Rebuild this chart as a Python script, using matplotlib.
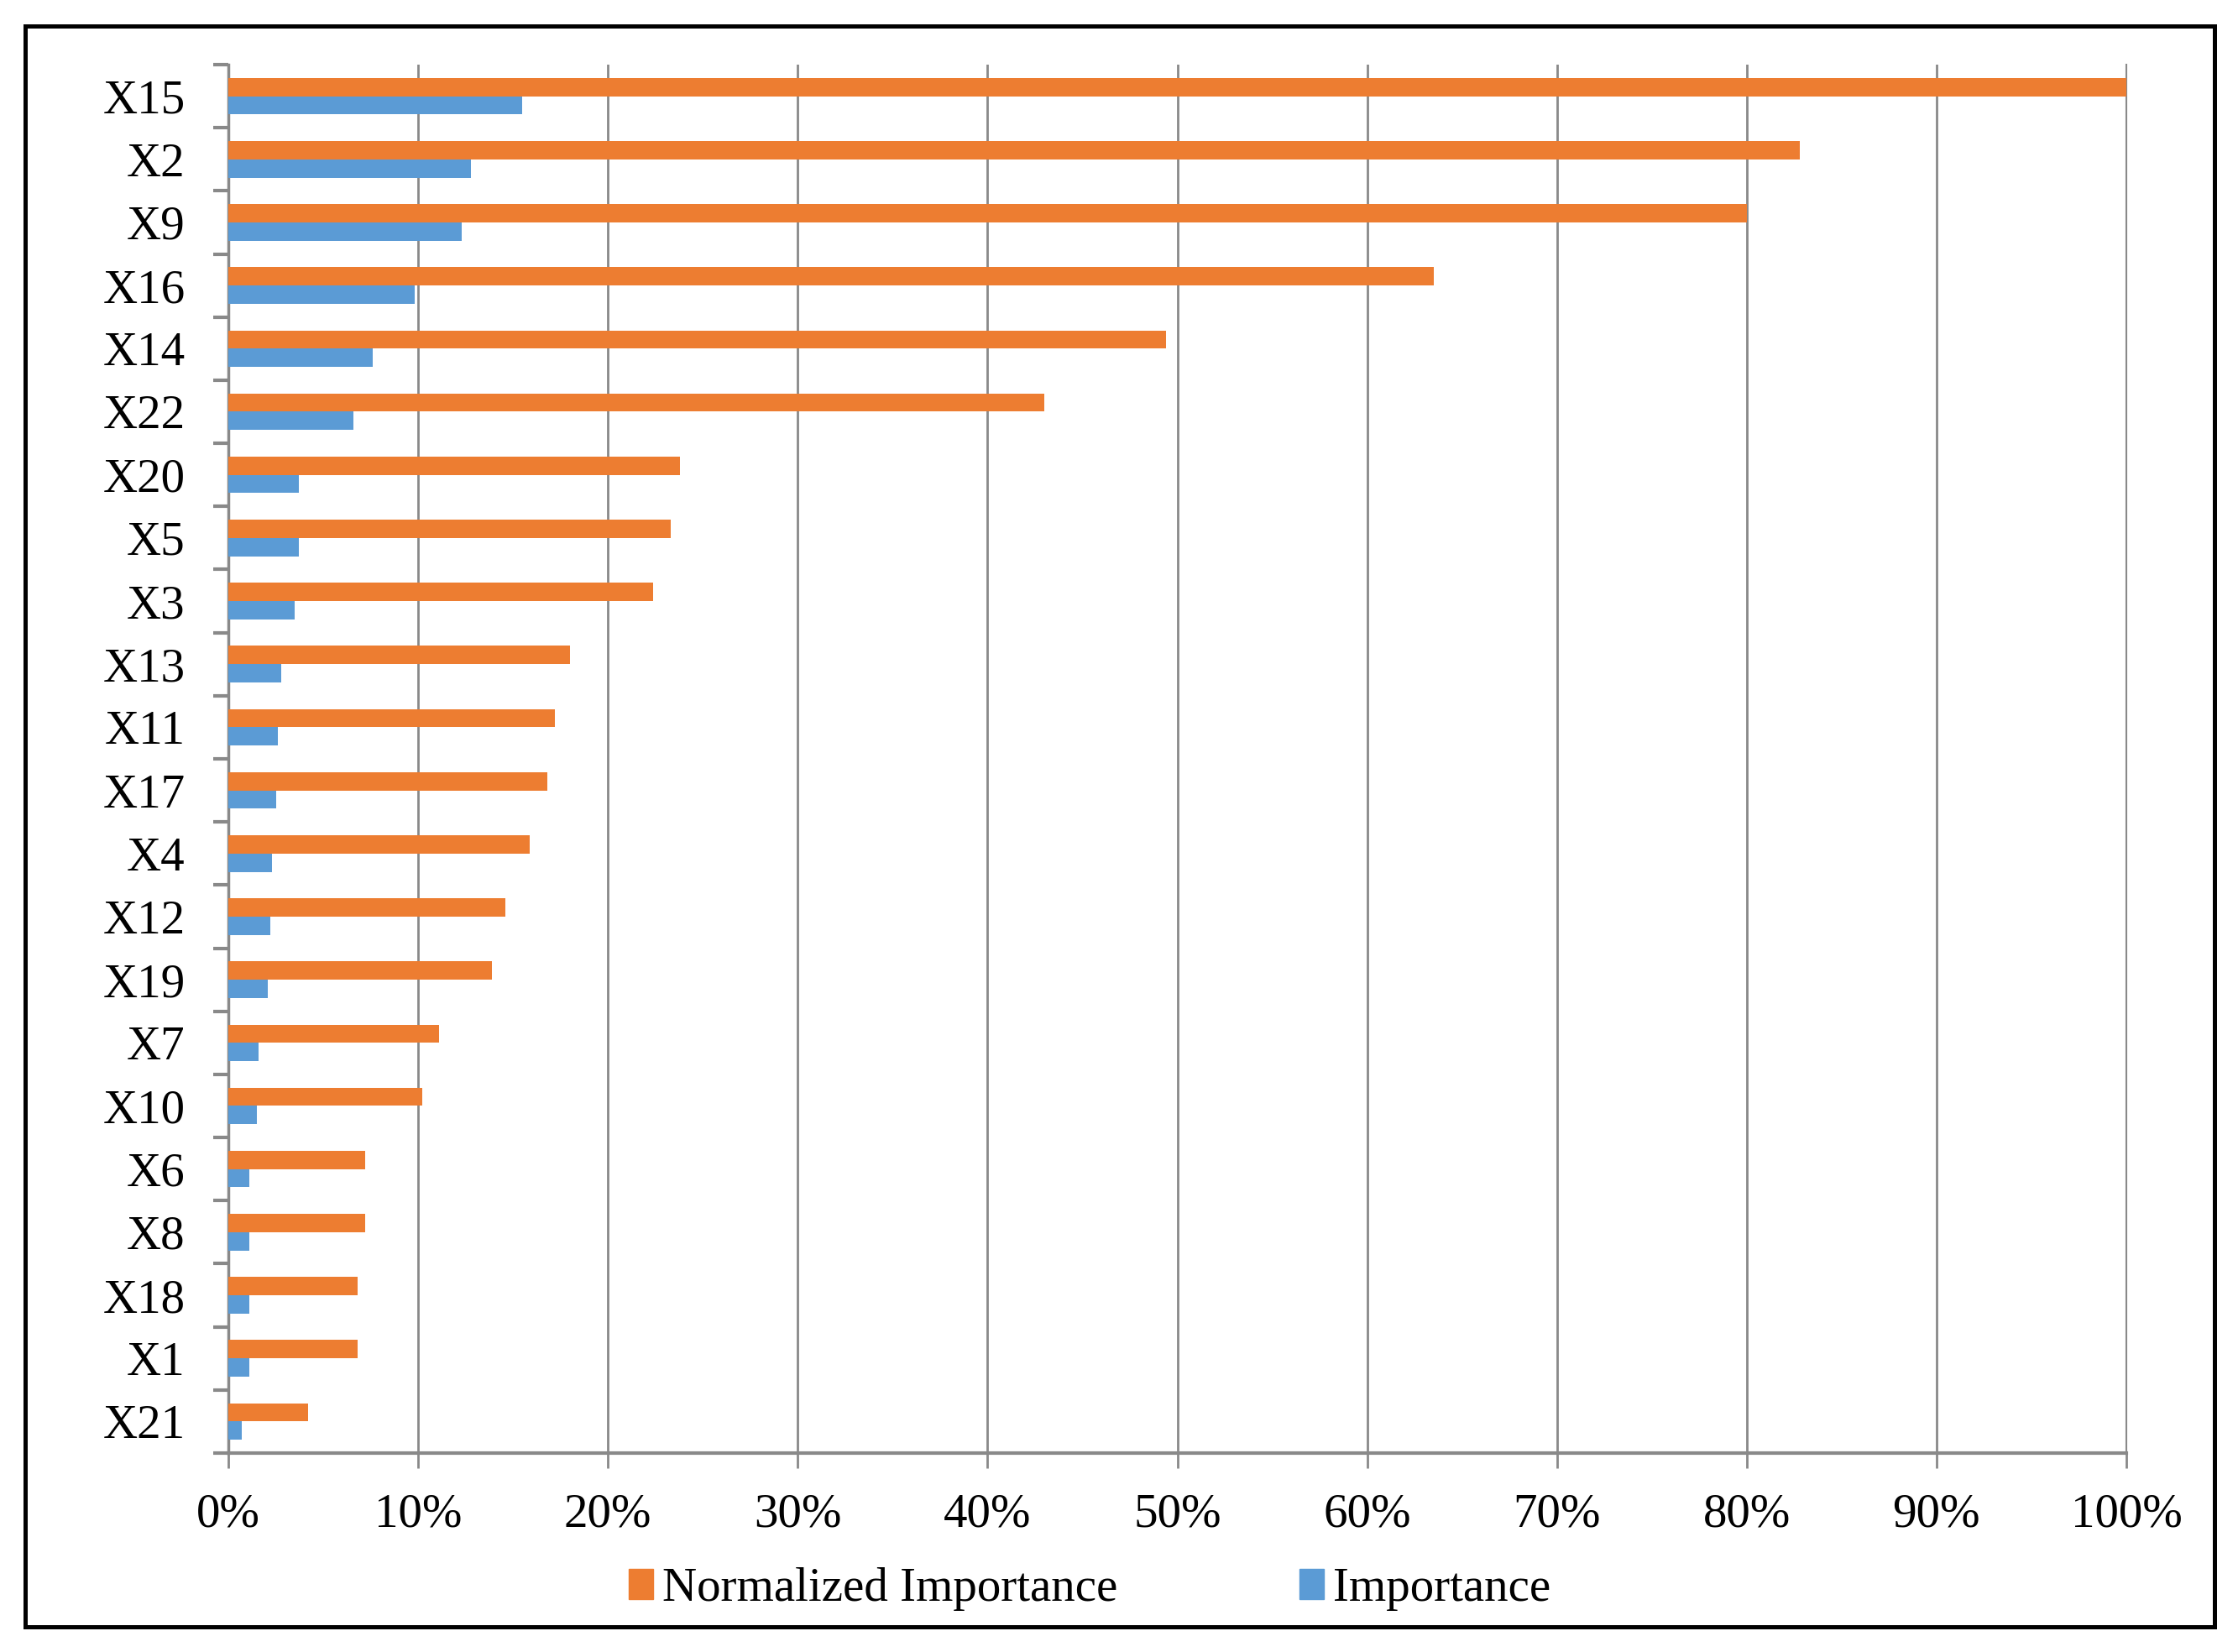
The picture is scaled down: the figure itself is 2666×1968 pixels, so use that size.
import numpy as np
import matplotlib
matplotlib.use("Agg")
import matplotlib.pyplot as plt
from matplotlib.patches import Rectangle, Patch

plt.rcParams['font.family'] = ['Liberation Serif', 'DejaVu Serif']

# variables, top to bottom as in the chart
variables = ['X15', 'X2', 'X9', 'X16', 'X14', 'X22', 'X20', 'X5', 'X3', 'X13', 'X11',
             'X17', 'X4', 'X12', 'X19', 'X7', 'X10', 'X6', 'X8', 'X18', 'X1', 'X21']
normalized = [100, 82.8, 80.0, 63.5, 49.4, 43.0, 23.8, 23.3, 22.4, 18.0, 17.2,
              16.8, 15.9, 14.6, 13.9, 11.1, 10.2, 7.2, 7.2, 6.8, 6.8, 4.2]
importance = [15.5, 12.8, 12.3, 9.8, 7.6, 6.6, 3.7, 3.7, 3.5, 2.8, 2.6,
              2.5, 2.3, 2.2, 2.1, 1.6, 1.5, 1.1, 1.1, 1.1, 1.1, 0.7]
x_ticks = [0, 10, 20, 30, 40, 50, 60, 70, 80, 90, 100]
x_labels = ['0%', '10%', '20%', '30%', '40%', '50%', '60%', '70%', '80%', '90%', '100%']

orange = '#ED7D31'
blue = '#5B9BD5'
gray = '#898989'

fig = plt.figure(figsize=(26.66, 19.68), dpi=100)
ax = fig.add_axes([272/2666, 1-1731/1968, (2533-272)/2666, (1731-77)/1968])

n = len(variables)
y = np.arange(n)[::-1]
h = 0.29
ax.barh(y + h/2, normalized, height=h, color=orange, label='Normalized Importance', zorder=3)
ax.barh(y - h/2, importance, height=h, color=blue, label='Importance', zorder=3)

ax.set_xlim(0, 100)
ax.set_ylim(-0.5, n - 0.5)

ax.set_xticks(x_ticks)
ax.set_xticklabels(x_labels, fontsize=41)
ax.tick_params(axis='x', direction='out', length=13, width=2, color=gray, pad=21)

# category boundaries get the ticks, labels sit at the centres
ax.set_yticks(np.arange(-0.5, n, 1.0))
ax.set_yticklabels([])
ax.set_yticks(y, minor=True)
ax.set_yticklabels(variables, minor=True, fontsize=41)
ax.tick_params(axis='y', which='major', direction='out', length=13, width=3, color=gray)
ax.tick_params(axis='y', which='minor', length=0, pad=37)

ax.xaxis.grid(True, color=gray, linewidth=2, zorder=0)
ax.set_axisbelow(True)

ax.spines['top'].set_visible(False)
ax.spines['right'].set_color(gray)
ax.spines['right'].set_linewidth(1.5)
ax.spines['left'].set_color(gray)
ax.spines['left'].set_linewidth(2.5)
ax.spines['bottom'].set_color(gray)
ax.spines['bottom'].set_linewidth(3)

handles = [Patch(color=orange), Patch(color=blue)]
fig.legend(handles, ['Normalized Importance', 'Importance'], loc='center',
           bbox_to_anchor=(0.487, 1-1893/1968), ncol=2, frameon=False, fontsize=41,
           handlelength=0.5, handleheight=0.6, handletextpad=0.2, columnspacing=3.8)

# black border around the whole chart
fig.patches.append(Rectangle((30/2666, 1-1938/1968), (2638-30)/2666, (1938-31)/1968,
                             transform=fig.transFigure, fill=False, edgecolor='black',
                             linewidth=3.6))

fig.savefig('out.png', dpi=100, facecolor='white')
